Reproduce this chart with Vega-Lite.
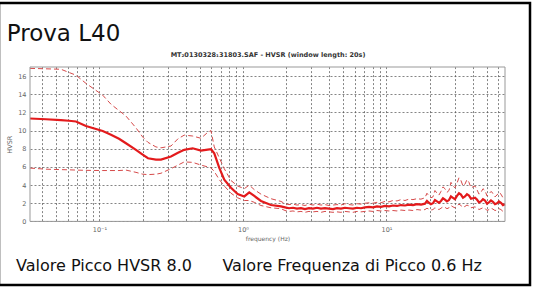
{
  "$schema": "https://vega.github.io/schema/vega-lite/v6.json",
  "autosize": {"type": "pad"},
  "padding": {"left": -3, "top": 1, "right": 5, "bottom": 4},
  "background": "white",
  "title": {"text": "Prova L40", "anchor": "start", "fontSize": 23, "font": "DejaVu Sans", "fontWeight": "normal", "color": "#111", "offset": -44, "dx": 9},
  "data": {"values": [
    {"f": 0.0328, "mean": 11.33, "upper": 16.85, "lower": 5.87},
    {"f": 0.0424, "mean": 11.25, "upper": 16.8, "lower": 5.75},
    {"f": 0.0539, "mean": 11.15, "upper": 16.75, "lower": 5.7},
    {"f": 0.0613, "mean": 11.08, "upper": 16.4, "lower": 5.68},
    {"f": 0.0686, "mean": 11.0, "upper": 16.1, "lower": 5.65},
    {"f": 0.0805, "mean": 10.5, "upper": 15.2, "lower": 5.62},
    {"f": 0.1053, "mean": 9.95, "upper": 13.9, "lower": 5.6},
    {"f": 0.1203, "mean": 9.55, "upper": 12.9, "lower": 5.6},
    {"f": 0.1368, "mean": 9.1, "upper": 12.2, "lower": 5.6},
    {"f": 0.153, "mean": 8.6, "upper": 11.6, "lower": 5.65},
    {"f": 0.1796, "mean": 7.88, "upper": 10.3, "lower": 5.4},
    {"f": 0.2, "mean": 7.35, "upper": 9.3, "lower": 5.2},
    {"f": 0.2178, "mean": 6.95, "upper": 8.7, "lower": 5.15},
    {"f": 0.2475, "mean": 6.8, "upper": 8.2, "lower": 5.2},
    {"f": 0.2683, "mean": 6.8, "upper": 8.1, "lower": 5.3},
    {"f": 0.315, "mean": 7.15, "upper": 8.3, "lower": 5.8},
    {"f": 0.3524, "mean": 7.55, "upper": 9.1, "lower": 6.2},
    {"f": 0.3899, "mean": 7.88, "upper": 9.5, "lower": 6.55},
    {"f": 0.4461, "mean": 8.05, "upper": 9.4, "lower": 6.5},
    {"f": 0.5099, "mean": 7.8, "upper": 9.15, "lower": 6.2},
    {"f": 0.5675, "mean": 7.9, "upper": 9.8, "lower": 6.0},
    {"f": 0.5984, "mean": 7.95, "upper": 10.0, "lower": 5.9},
    {"f": 0.631, "mean": 7.5, "upper": 8.2, "lower": 5.5},
    {"f": 0.6839, "mean": 5.9, "upper": 7.0, "lower": 4.6},
    {"f": 0.741, "mean": 4.6, "upper": 5.8, "lower": 3.9},
    {"f": 0.825, "mean": 3.7, "upper": 4.5, "lower": 3.1},
    {"f": 0.9185, "mean": 3.0, "upper": 3.9, "lower": 2.6},
    {"f": 1.021, "mean": 2.75, "upper": 3.6, "lower": 2.3},
    {"f": 1.106, "mean": 3.2, "upper": 4.0, "lower": 2.3},
    {"f": 1.199, "mean": 2.8, "upper": 3.5, "lower": 2.1},
    {"f": 1.335, "mean": 2.25, "upper": 3.0, "lower": 1.75},
    {"f": 1.567, "mean": 1.8, "upper": 2.5, "lower": 1.5},
    {"f": 1.84, "mean": 1.65, "upper": 2.2, "lower": 1.4},
    {"f": 1.962, "mean": 1.55, "upper": 1.95, "lower": 1.2},
    {"f": 2.092, "mean": 1.45, "upper": 1.85, "lower": 1.1},
    {"f": 2.231, "mean": 1.5, "upper": 1.9, "lower": 1.15},
    {"f": 2.379, "mean": 1.4, "upper": 1.8, "lower": 1.05},
    {"f": 2.536, "mean": 1.45, "upper": 1.85, "lower": 1.1},
    {"f": 2.704, "mean": 1.35, "upper": 1.75, "lower": 1.0},
    {"f": 2.884, "mean": 1.45, "upper": 1.9, "lower": 1.1},
    {"f": 3.075, "mean": 1.4, "upper": 1.8, "lower": 1.05},
    {"f": 3.279, "mean": 1.5, "upper": 1.9, "lower": 1.1},
    {"f": 3.496, "mean": 1.4, "upper": 1.8, "lower": 1.0},
    {"f": 3.728, "mean": 1.45, "upper": 1.85, "lower": 1.1},
    {"f": 3.975, "mean": 1.4, "upper": 1.75, "lower": 1.05},
    {"f": 4.239, "mean": 1.35, "upper": 1.8, "lower": 1.0},
    {"f": 4.52, "mean": 1.45, "upper": 1.85, "lower": 1.05},
    {"f": 4.819, "mean": 1.4, "upper": 1.8, "lower": 1.0},
    {"f": 5.139, "mean": 1.5, "upper": 1.95, "lower": 1.1},
    {"f": 5.479, "mean": 1.45, "upper": 1.85, "lower": 1.05},
    {"f": 5.843, "mean": 1.4, "upper": 1.8, "lower": 1.0},
    {"f": 6.23, "mean": 1.5, "upper": 1.95, "lower": 1.1},
    {"f": 6.643, "mean": 1.45, "upper": 1.9, "lower": 1.05},
    {"f": 7.084, "mean": 1.55, "upper": 2.0, "lower": 1.1},
    {"f": 7.553, "mean": 1.6, "upper": 2.05, "lower": 1.15},
    {"f": 8.054, "mean": 1.55, "upper": 2.0, "lower": 1.1},
    {"f": 8.588, "mean": 1.65, "upper": 2.1, "lower": 1.2},
    {"f": 9.157, "mean": 1.6, "upper": 2.05, "lower": 1.15},
    {"f": 9.762, "mean": 1.7, "upper": 2.2, "lower": 1.2},
    {"f": 10.41, "mean": 1.65, "upper": 2.15, "lower": 1.15},
    {"f": 11.1, "mean": 1.75, "upper": 2.3, "lower": 1.2},
    {"f": 11.84, "mean": 1.7, "upper": 2.25, "lower": 1.15},
    {"f": 12.62, "mean": 1.8, "upper": 2.4, "lower": 1.25},
    {"f": 13.46, "mean": 1.75, "upper": 2.3, "lower": 1.2},
    {"f": 14.35, "mean": 1.85, "upper": 2.45, "lower": 1.25},
    {"f": 15.3, "mean": 1.8, "upper": 2.4, "lower": 1.2},
    {"f": 16.32, "mean": 1.9, "upper": 2.5, "lower": 1.3},
    {"f": 17.4, "mean": 1.85, "upper": 2.45, "lower": 1.25},
    {"f": 18.55, "mean": 1.95, "upper": 2.6, "lower": 1.3},
    {"f": 19.15, "mean": 2.25, "upper": 3.1, "lower": 1.45},
    {"f": 19.78, "mean": 2.05, "upper": 2.8, "lower": 1.35},
    {"f": 20.42, "mean": 1.9, "upper": 2.6, "lower": 1.25},
    {"f": 21.09, "mean": 2.0, "upper": 2.7, "lower": 1.3},
    {"f": 21.77, "mean": 2.35, "upper": 3.4, "lower": 1.5},
    {"f": 22.49, "mean": 2.2, "upper": 3.1, "lower": 1.4},
    {"f": 23.22, "mean": 2.05, "upper": 2.9, "lower": 1.3},
    {"f": 23.98, "mean": 2.25, "upper": 3.3, "lower": 1.45},
    {"f": 24.76, "mean": 2.55, "upper": 3.8, "lower": 1.6},
    {"f": 25.57, "mean": 2.4, "upper": 3.6, "lower": 1.55},
    {"f": 26.4, "mean": 2.2, "upper": 3.2, "lower": 1.4},
    {"f": 27.27, "mean": 2.35, "upper": 3.4, "lower": 1.5},
    {"f": 28.15, "mean": 2.75, "upper": 4.3, "lower": 1.75},
    {"f": 29.07, "mean": 2.6, "upper": 3.9, "lower": 1.6},
    {"f": 30.02, "mean": 2.45, "upper": 3.7, "lower": 1.5},
    {"f": 31.0, "mean": 2.8, "upper": 4.2, "lower": 1.7},
    {"f": 32.01, "mean": 3.1, "upper": 4.8, "lower": 1.9},
    {"f": 33.05, "mean": 2.95, "upper": 4.5, "lower": 1.75},
    {"f": 34.13, "mean": 2.6, "upper": 3.9, "lower": 1.55},
    {"f": 35.25, "mean": 2.75, "upper": 4.1, "lower": 1.65},
    {"f": 36.39, "mean": 3.0, "upper": 4.6, "lower": 1.8},
    {"f": 37.58, "mean": 2.85, "upper": 4.3, "lower": 1.7},
    {"f": 38.81, "mean": 2.5, "upper": 3.7, "lower": 1.5},
    {"f": 40.08, "mean": 2.55, "upper": 3.8, "lower": 1.55},
    {"f": 41.38, "mean": 2.6, "upper": 3.9, "lower": 1.6},
    {"f": 42.73, "mean": 2.4, "upper": 3.5, "lower": 1.5},
    {"f": 44.12, "mean": 2.1, "upper": 3.0, "lower": 1.3},
    {"f": 45.57, "mean": 2.2, "upper": 3.2, "lower": 1.4},
    {"f": 47.05, "mean": 2.45, "upper": 3.6, "lower": 1.5},
    {"f": 48.59, "mean": 2.3, "upper": 3.4, "lower": 1.45},
    {"f": 50.17, "mean": 1.95, "upper": 2.8, "lower": 1.2},
    {"f": 51.81, "mean": 2.1, "upper": 3.0, "lower": 1.3},
    {"f": 53.49, "mean": 2.3, "upper": 3.3, "lower": 1.45},
    {"f": 55.24, "mean": 2.15, "upper": 3.1, "lower": 1.35},
    {"f": 57.04, "mean": 1.9, "upper": 2.7, "lower": 1.2},
    {"f": 58.9, "mean": 2.0, "upper": 2.9, "lower": 1.25},
    {"f": 60.82, "mean": 2.2, "upper": 3.2, "lower": 1.4},
    {"f": 62.81, "mean": 2.05, "upper": 3.0, "lower": 1.3},
    {"f": 64.85, "mean": 1.8, "upper": 2.6, "lower": 1.1},
    {"f": 66.97, "mean": 1.9, "upper": 2.7, "lower": 1.15}
  ]},
  "vconcat": [
    {
      "width": 531,
      "height": 282,
      "title": {"text": "Valore Picco HVSR 8.0\u00a0\u00a0\u00a0\u00a0\u00a0\u00a0Valore Frequenza di Picco 0.6 Hz", "orient": "bottom", "anchor": "start", "fontSize": 16, "fontWeight": "normal", "font": "DejaVu Sans", "color": "#111", "offset": -27, "dx": 17},
      "layer": [
        {
          "layer": [
            {
              "transform": [{"fold": ["upper", "lower"], "as": ["band", "value"]}],
              "mark": {"type": "line", "strokeDash": [5, 3], "strokeWidth": 1, "color": "#d64a4a"},
              "encoding": {
                "x": {"field": "f", "type": "quantitative",
                  "scale": {"type": "log", "domain": [0.0328, 67], "range": [31, 506], "nice": false},
                  "axis": {"orient": "bottom", "offset": -63.6, "title": "frequency (Hz)",
                    "values": [0.04, 0.05, 0.06, 0.07, 0.08, 0.09, 0.1, 0.2, 0.3, 0.4, 0.5, 0.6, 0.7, 0.8, 0.9, 1, 2, 3, 4, 5, 6, 7, 8, 9, 10, 20, 30, 40, 50, 60],
                    "labelExpr": "datum.value == 0.1 ? '10⁻¹' : datum.value == 1 ? '10⁰' : datum.value == 10 ? '10¹' : ''",
                    "labelOverlap": false, "grid": true, "ticks": false, "domain": false,
                    "labelFontSize": 6.5, "labelColor": "#666", "labelPadding": 5,
                    "titleFontSize": 6, "titleColor": "#666", "titleFontWeight": "normal", "titlePadding": 3}},
                "y": {"field": "value", "type": "quantitative", "title": "HVSR",
                  "scale": {"domain": [0, 17], "range": [218.4, 64], "nice": false, "zero": false},
                  "axis": {"orient": "left", "offset": -31, "values": [0, 2, 4, 6, 8, 10, 12, 14, 16], "tickCount": 9,
                    "labelOverlap": false, "grid": true, "ticks": false, "domain": false,
                    "labelFontSize": 6.5, "labelColor": "#666", "labelPadding": 4,
                    "titleFontSize": 6.5, "titleColor": "#666", "titleFontWeight": "normal", "titlePadding": 5}},
                "detail": {"field": "band", "type": "nominal"}
              }
            },
            {
              "mark": {"type": "line", "strokeWidth": 2.2, "color": "#e31a1c"},
              "encoding": {
                "x": {"field": "f", "type": "quantitative"},
                "y": {"field": "mean", "type": "quantitative", "title": "HVSR",
                  "axis": {"orient": "left", "offset": -31, "values": [0, 2, 4, 6, 8, 10, 12, 14, 16], "tickCount": 9,
                    "labelOverlap": false, "grid": true, "ticks": false, "domain": false,
                    "labelFontSize": 6.5, "labelColor": "#666", "labelPadding": 4,
                    "titleFontSize": 6.5, "titleColor": "#666", "titleFontWeight": "normal", "titlePadding": 5}}
              }
            }
          ]
        },
        {
          "data": {"values": [{}]},
          "mark": {"type": "rect", "fill": "transparent", "stroke": "#999", "strokeWidth": 1},
          "encoding": {
            "x": {"datum": 0.0328, "type": "quantitative",
              "scale": {"type": "log", "domain": [0.0328, 67], "range": [31, 506], "nice": false},
              "axis": {"orient": "top", "offset": -64, "title": "MT₂0130328₁31803.SAF - HVSR (window length: 20s)",
                "labels": false, "ticks": false, "domain": false, "grid": false,
                "titleFontSize": 6.5, "titleFontWeight": "bold", "titleColor": "#333", "titlePadding": 10}},
            "x2": {"datum": 67},
            "y": {"datum": 0, "type": "quantitative", "title": "HVSR",
              "axis": {"orient": "left", "offset": -31, "values": [0, 2, 4, 6, 8, 10, 12, 14, 16], "tickCount": 9,
                "labelOverlap": false, "grid": true, "ticks": false, "domain": false,
                "labelFontSize": 6.5, "labelColor": "#666", "labelPadding": 4,
                "titleFontSize": 6.5, "titleColor": "#666", "titleFontWeight": "normal", "titlePadding": 5}},
            "y2": {"datum": 17}
          }
        }
      ],
      "resolve": {"scale": {"x": "independent"}, "axis": {"x": "independent"}}
    }
  ],
  "config": {
    "font": "DejaVu Sans",
    "view": {"stroke": "#000", "strokeWidth": 2.5},
    "axis": {"gridColor": "#555", "gridDash": [2, 2], "gridWidth": 0.8, "gridOpacity": 0.9, "labelFont": "DejaVu Sans", "titleFont": "DejaVu Sans"}
  }
}
